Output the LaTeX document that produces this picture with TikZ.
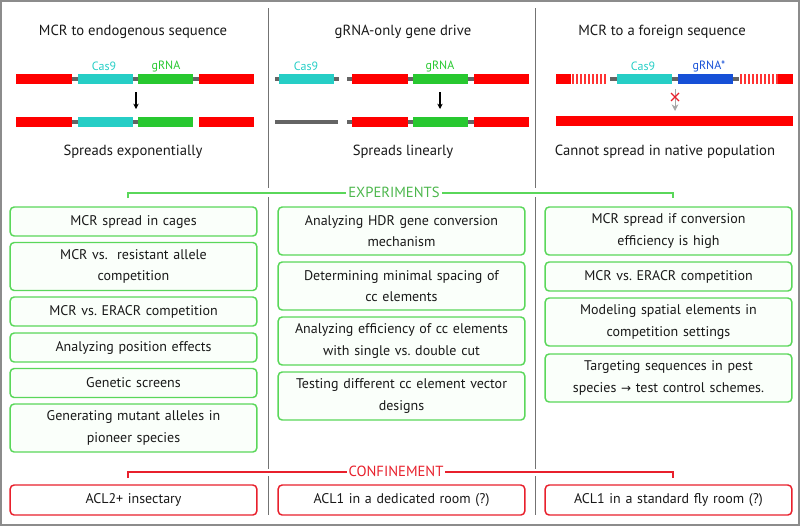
\documentclass[tikz,border=0pt]{standalone}
\usepackage{fontspec}
\setmainfont{PT Sans}
\newfontfamily\symfont{DejaVu Sans}
\usepackage{tikz}
\usetikzlibrary{arrows.meta,positioning,calc}
\usepackage{xcolor}
\frenchspacing

\definecolor{barred}{RGB}{255,0,0}
\definecolor{barcyan}{RGB}{38,206,198}
\definecolor{bargreen}{RGB}{40,200,48}
\definecolor{barblue}{RGB}{22,80,215}
\definecolor{joingray}{RGB}{100,100,100}
\definecolor{expgreen}{RGB}{90,215,90}
\definecolor{confred}{RGB}{232,32,44}
\definecolor{framegray}{RGB}{140,140,140}

\begin{document}
\begin{tikzpicture}[
    x=0.75pt, y=-0.75pt,
    title/.style={font=\fontsize{11}{13}\selectfont, text=black!90},
    genelab/.style={font=\fontsize{9}{11}\selectfont},
    expbox/.style={draw=expgreen, fill=green!2, rectangle, line width=1.1pt,
        rounded corners=3pt, minimum width=185pt, align=center,
        text width=178pt, font=\fontsize{10.5}{16}\selectfont, text=black!90},
    confbox/.style={expbox, draw=confred, fill=white},
    one/.style={minimum height=21.75pt},
    two/.style={minimum height=36pt},
    joint/.style={draw=joingray, line width=3pt},
    divider/.style={draw=black!55, line width=0.7pt},
    expline/.style={draw=expgreen, line width=1pt},
    confline/.style={draw=confred, line width=1pt},
    grouplab/.style={fill=white, inner sep=1.5pt, font=\fontsize{11}{13}\selectfont},
    arrow/.style={-{Stealth[length=4pt, width=4pt]}, line width=0.9pt},
]

\useasboundingbox (0,0) rectangle (800,526);
\draw[framegray, line width=1.2pt] (1,1) rectangle (799,525);

% column dividers
\draw[divider] (268,8) -- (268,188);
\draw[divider] (268,197) -- (268,469);
\draw[divider] (268,476) -- (268,515);
\draw[divider] (535,8) -- (535,188);
\draw[divider] (535,197) -- (535,469);
\draw[divider] (535,476) -- (535,515);

\node[title] (tA) at (133,32) {MCR to endogenous sequence};
\node[title] (tB) at (403,32) {gRNA-only gene drive};
\node[title] (tC) at (662,32) {MCR to a foreign sequence};

% endogenous
\draw[joint] (16,79) -- (254,79);
\fill[barred] (16,74) rectangle (72,84);
\fill[barcyan] (78,74) rectangle (133,84);
\fill[bargreen] (138,74) rectangle (193,84);
\fill[barred] (199,74) rectangle (254,84);
\draw[joint] (16,122) -- (193,122);
\fill[barred] (16,117) rectangle (72,127);
\fill[barcyan] (78,117) rectangle (133,127);
\fill[bargreen] (138,117) rectangle (193,127);
\fill[barred] (199,117) rectangle (254,127);
\node[genelab, text=barcyan] (casA) at (104,66) {Cas9};
\node[genelab, text=bargreen] (grA) at (166,66) {gRNA};
\coordinate (arA1) at (136,92);
\coordinate (arA2) at (136,109);
\draw[arrow] (arA1) -- (arA2);

% gRNA-only
\draw[joint] (275,79) -- (339,79);
\fill[barcyan] (279,74) rectangle (334,84);
\draw[joint] (347,79) -- (529,79);
\fill[barred] (352,74) rectangle (408,84);
\fill[bargreen] (413,74) rectangle (468,84);
\fill[barred] (474,74) rectangle (529,84);
\draw[joint] (275,122) -- (338,122);
\draw[joint] (347,122) -- (529,122);
\fill[barred] (352,117) rectangle (408,127);
\fill[bargreen] (413,117) rectangle (468,127);
\fill[barred] (474,117) rectangle (529,127);
\node[genelab, text=barcyan] (casB) at (306,66) {Cas9};
\node[genelab, text=bargreen] (grB) at (440,66) {gRNA};
\coordinate (arB1) at (440,92);
\coordinate (arB2) at (440,109);
\draw[arrow] (arB1) -- (arB2);

% foreign
\draw[joint] (610,79) -- (739,79);
\fill[barred] (556,74) rectangle (571,84);
\foreach \x in {572,576,...,606} \fill[barred!80] (\x,74) rectangle ++(2,10);
\fill[barcyan] (617,74) rectangle (672,84);
\fill[barblue] (678,74) rectangle (733,84);
\foreach \x in {740,744,...,776} \fill[barred!80] (\x,74) rectangle ++(2,10);
\fill[barred] (778,74) rectangle (793,84);
\fill[barred] (556,116) rectangle (793,126);
\node[genelab, text=barcyan] (casC) at (643,66) {Cas9};
\node[genelab, text=barblue] (grC) at (709,66) {gRNA*};
\coordinate (arC1) at (675,89);
\coordinate (arC2) at (675,111);
\draw[-{Stealth[length=5pt, width=5pt]}, gray!70, line width=0.7pt] (arC1) -- (arC2);
\draw[confred, line width=1pt] (671,93) -- (679,101) (679,93) -- (671,101);

\node[title] (sA) at (133,152) {Spreads exponentially};
\node[title] (sB) at (403,152) {Spreads linearly};
\node[title] (sC) at (665,152) {Cannot spread in native population};

% experiments
\coordinate (expL) at (128,198);
\coordinate (expR) at (673,198);
\draw[expline] (expL) -- ++(0,-5) -| (expR);
\node[grouplab, text=expgreen!85!black] (explab) at (394,192) {EXPERIMENTS};

\node[expbox, one] (a1) at (133.5,221.5) {MCR spread in cages};
\node[expbox, two] (a2) at (133.5,266.5) {MCR vs.\ \ resistant allele\\competition};
\node[expbox, one] (a3) at (133.5,311.5) {MCR vs. ERACR competition};
\node[expbox, one] (a4) at (133.5,347.5) {Analyzing position effects};
\node[expbox, one] (a5) at (133.5,383) {Genetic screens};
\node[expbox, two] (a6) at (133.5,428) {Generating mutant alleles in\\pioneer species};

\node[expbox, two] (b1) at (401.5,231) {Analyzing HDR gene conversion\\mechanism};
\node[expbox, two] (b2) at (401.5,286) {Determining minimal spacing of\\cc elements};
\node[expbox, two] (b3) at (401.5,341) {Analyzing efficiency of cc elements\\with single vs. double cut};
\node[expbox, two] (b4) at (401.5,396) {Testing different cc element vector\\designs};

\node[expbox, two] (c1) at (668.5,231) {MCR spread if conversion\\efficiency is high};
\node[expbox, one] (c2) at (668.5,276.5) {MCR vs. ERACR competition};
\node[expbox, two] (c3) at (668.5,322) {Modeling spatial elements in\\competition settings};
\node[expbox, two] (c4) at (668.5,378) {Targeting sequences in pest\\species {\symfont\fontsize{9}{11}\selectfont →} test control schemes.};

% confinement
\coordinate (confL) at (128,478);
\coordinate (confR) at (673,478);
\draw[confline] (confL) -- ++(0,-6) -| (confR);
\node[grouplab, text=confred] (conflab) at (396,471) {CONFINEMENT};

\node[confbox, minimum height=22.5pt] (dA) at (133.5,500) {ACL2+ insectary};
\node[confbox, minimum height=22.5pt] (dB) at (401.5,500) {ACL1 in a dedicated room (?)};
\node[confbox, minimum height=22.5pt] (dC) at (668.5,500) {ACL1 in a standard fly room (?)};

\end{tikzpicture}
\end{document}
